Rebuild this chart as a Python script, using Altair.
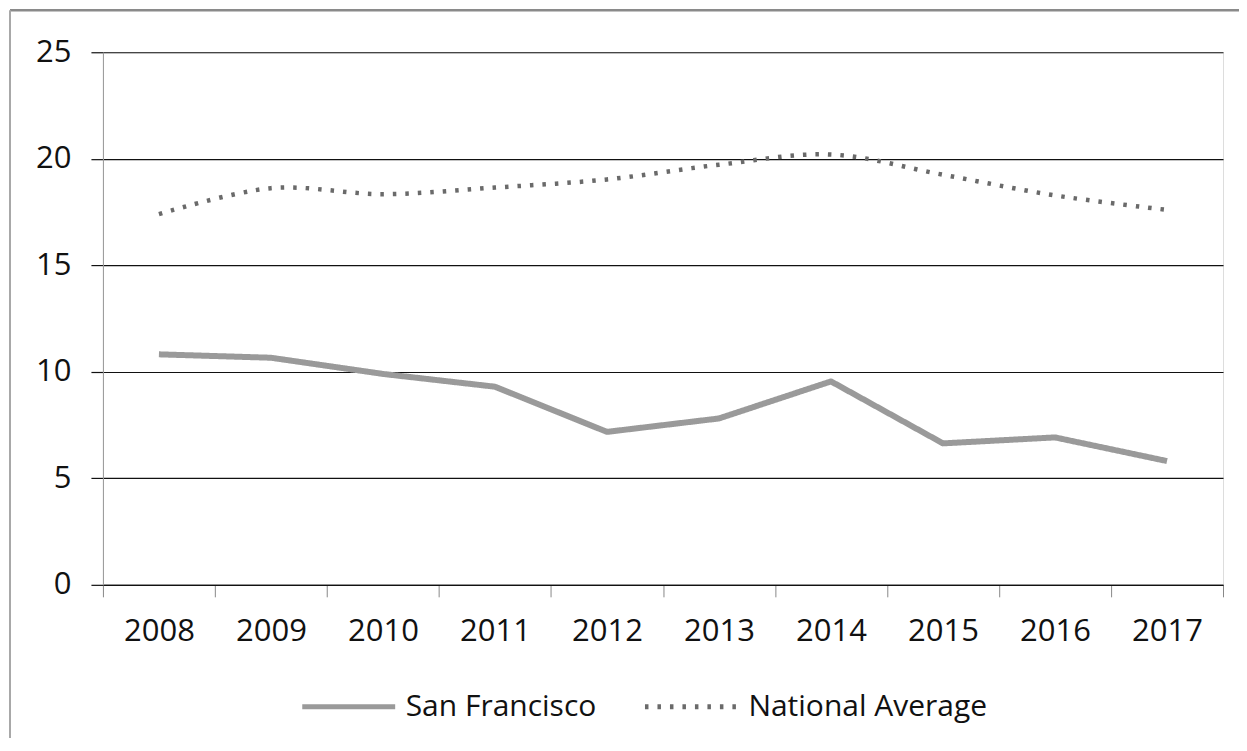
import altair as alt
import pandas as pd

years = [str(y) for y in range(2008, 2018)]
san_francisco = [10.82, 10.66, 9.9, 9.3, 7.18, 7.81, 9.55, 6.64, 6.92, 5.81]
national_average = [17.4, 18.62, 18.34, 18.65, 19.03, 19.72, 20.2, 19.25, 18.28, 17.6]
series_names = ["San Francisco", "National Average"]
y_ticks = [0, 5, 10, 15, 20, 25]

rows = []
for yr, v in zip(years, san_francisco):
    rows.append({"year": yr, "value": v, "series": series_names[0]})
for yr, v in zip(years, national_average):
    rows.append({"year": yr, "value": v, "series": series_names[1]})
df = pd.DataFrame(rows)

FONT = "Open Sans"
W, H = 1121, 533

x_enc = alt.X(
    "year:O",
    title=None,
    bandPosition=0.5,
    scale=alt.Scale(type="band", paddingInner=0, paddingOuter=0, domain=years),
    axis=alt.Axis(
        labelAngle=0, tickBand="extent", grid=False,
        domainColor="#111111", domainWidth=1.3,
        tickColor="#888888", tickSize=12, tickWidth=1,
        labelPadding=20, labelFont=FONT, labelFontSize=31, labelColor="#111111",
    ),
)
y_enc = alt.Y(
    "value:Q",
    title=None,
    scale=alt.Scale(domain=[0, 25], nice=False),
    axis=alt.Axis(
        values=y_ticks, grid=True, gridColor="#111111", gridWidth=1.2,
        domainColor="#999999", domainWidth=1,
        tickColor="#111111", tickSize=12, tickWidth=1.2,
        labelPadding=20, labelFont=FONT, labelFontSize=31, labelColor="#111111",
    ),
)
color_enc = alt.Color(
    "series:N",
    scale=alt.Scale(domain=series_names, range=["#9a9a9a", "#6a6a6a"]),
    legend=alt.Legend(
        title=None, orient="none", direction="horizontal",
        legendX=197, legendY=606,
        symbolType="stroke", symbolSize=8649, symbolStrokeWidth=5,
        labelFont=FONT, labelFontSize=30, labelColor="#111111", labelLimit=500,
        labelOffset=8, columnPadding=38, padding=0,
    ),
)
dash_enc = alt.StrokeDash(
    "series:N",
    scale=alt.Scale(domain=series_names, range=[[1, 0], [3.5, 9]]),
    legend=None,
)

base = alt.Chart(df).encode(x=x_enc, y=y_enc, color=color_enc, strokeDash=dash_enc)

sf_line = base.transform_filter(alt.datum.series == series_names[0]).mark_line(
    strokeWidth=6, interpolate="linear", strokeJoin="round"
)
na_line = base.transform_filter(alt.datum.series == series_names[1]).mark_line(
    strokeWidth=4.5, interpolate="catmull-rom"
)

frame_data = alt.Data(values=[{"f": 1}])
frame_top = alt.Chart(frame_data).mark_rule(stroke="#8a8a8a", strokeWidth=2.5).encode(
    x=alt.value(-93), x2=alt.value(1137), y=alt.value(-42)
)
frame_left = alt.Chart(frame_data).mark_rule(stroke="#a8a8a8", strokeWidth=2).encode(
    x=alt.value(-93), y=alt.value(-42), y2=alt.value(700)
)

chart = alt.layer(frame_top, frame_left, sf_line, na_line).properties(
    width=W, height=H,
    autosize=alt.AutoSizeParams(type="none"),
    padding={"left": 95, "top": 44, "right": 16, "bottom": 153},
).configure_view(stroke=None).configure(background="white")

chart.save("out.html", embed_options={"renderer": "svg", "actions": False})
